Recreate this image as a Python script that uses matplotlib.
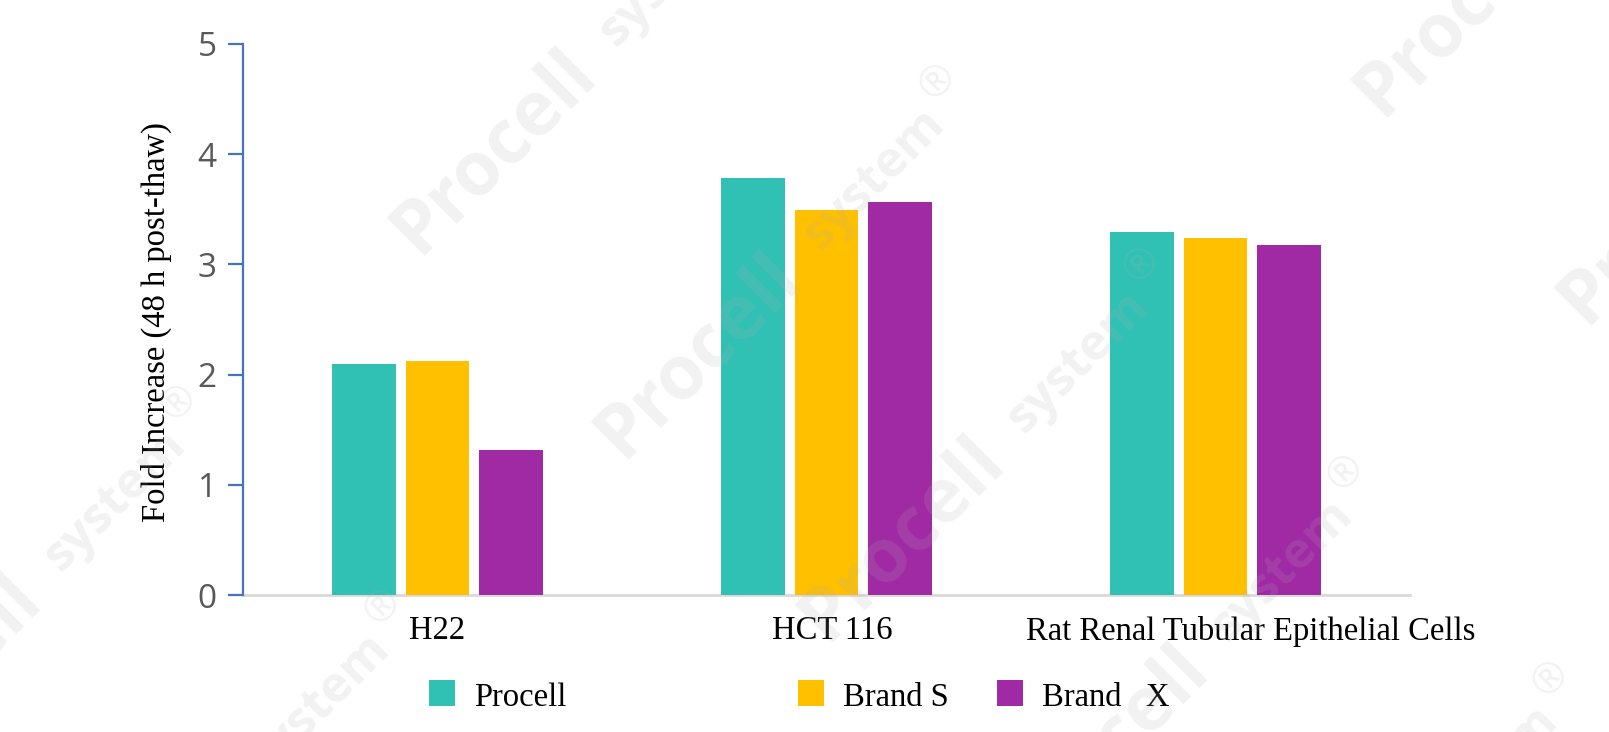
import matplotlib
matplotlib.use("Agg")
import matplotlib.pyplot as plt
from matplotlib.patches import Rectangle
from matplotlib.transforms import ScaledTranslation
import numpy as np

# ---- data ----
categories = ["H22", "HCT 116", "Rat Renal Tubular Epithelial Cells"]
series_names = ["Procell", "Brand S", "Brand   X"]
procell = [2.10, 3.78, 3.29]
brand_s = [2.12, 3.49, 3.24]
brand_x = [1.32, 3.57, 3.18]
colors = ["#30C1B4", "#FFC000", "#A029A4"]
y_ticks = [0, 1, 2, 3, 4, 5]
y_label = "Fold Increase (48 h post-thaw)"

W, H = 1609, 732
fig = plt.figure(figsize=(W / 100, H / 100), dpi=100)
fig.patch.set_facecolor("white")

def fx(px):
    return px / W

def fy(py):
    return 1 - py / H

ax = fig.add_axes([fx(243), fy(595), fx(1410) - fx(243), fy(44) - fy(595)])
ax.set_facecolor("none")

x = np.arange(len(categories))
bw = 0.1645
off = 0.1877
for i, (vals, c) in enumerate(zip([procell, brand_s, brand_x], colors)):
    ax.bar(x + (i - 1) * off, vals, width=bw, color=c, zorder=2)

ax.set_xlim(-0.5, len(categories) - 0.5)
ax.set_ylim(0, 5)

for s in ["top", "right"]:
    ax.spines[s].set_visible(False)
ax.spines["left"].set_color("#4472C4")
ax.spines["left"].set_linewidth(1.6)
ax.spines["bottom"].set_color("#D9D9D9")
ax.spines["bottom"].set_linewidth(2.0)
ax.spines["bottom"].set_zorder(1)

ax.set_yticks(y_ticks)
ax.set_yticklabels([str(t) for t in y_ticks], fontfamily="Open Sans",
                   fontsize=24, color="#595959")
ax.tick_params(axis="y", direction="out", length=11, width=1.6,
               color="#4472C4", pad=8)

ax.set_xticks(x)
ax.set_xticklabels(categories, fontfamily="Liberation Serif", fontsize=23.5,
                   color="black")
ax.tick_params(axis="x", length=0, pad=15)
# labels sit slightly right of their groups in the reference
lbls = ax.get_xticklabels()
lbls[1].set_transform(lbls[1].get_transform() + ScaledTranslation(0.06, 0, fig.dpi_scale_trans))
lbls[2].set_transform(lbls[2].get_transform() + ScaledTranslation(0.35, 0, fig.dpi_scale_trans))

fig.text(fx(156), fy(322), y_label, rotation=90, ha="center", va="center",
         fontfamily="Liberation Serif", fontsize=23.5, color="black")

# ---- legend ----
leg_sq_x = [429, 798, 997]
for name, c, sx in zip(series_names, colors, leg_sq_x):
    fig.add_artist(Rectangle((fx(sx), fy(706)), fx(26), 26 / H,
                             transform=fig.transFigure, color=c, lw=0))
    fig.text(fx(sx + 45), fy(706), name, ha="left", va="baseline",
             fontfamily="Liberation Serif", fontsize=23.5, color="black")

# ---- faint watermarks ----
wm_anchors = [(-167, 751), (388, 226), (37, 955), (592, 430),
              (796, 613), (1351, 88), (1000, 821), (1555, 296), (1205, 1027)]
wm_kw = dict(rotation=45, rotation_mode="anchor", fontfamily="Open Sans",
             color="#b0b0b0", alpha=0.16, zorder=10)
for (px, py) in wm_anchors:
    fig.text(fx(px + 30), fy(py + 30), "Procell", ha="left", va="baseline",
             fontweight="bold", fontsize=54, **wm_kw)
    fig.text(fx(px + 228), fy(py - 178), "system", ha="left", va="baseline",
             fontweight="bold", fontsize=36, **wm_kw)
    fig.text(fx(px + 346), fy(py - 348), "\u00ae", ha="center", va="center",
             fontsize=30, **wm_kw)

fig.savefig("out.png", dpi=100, facecolor="white")
